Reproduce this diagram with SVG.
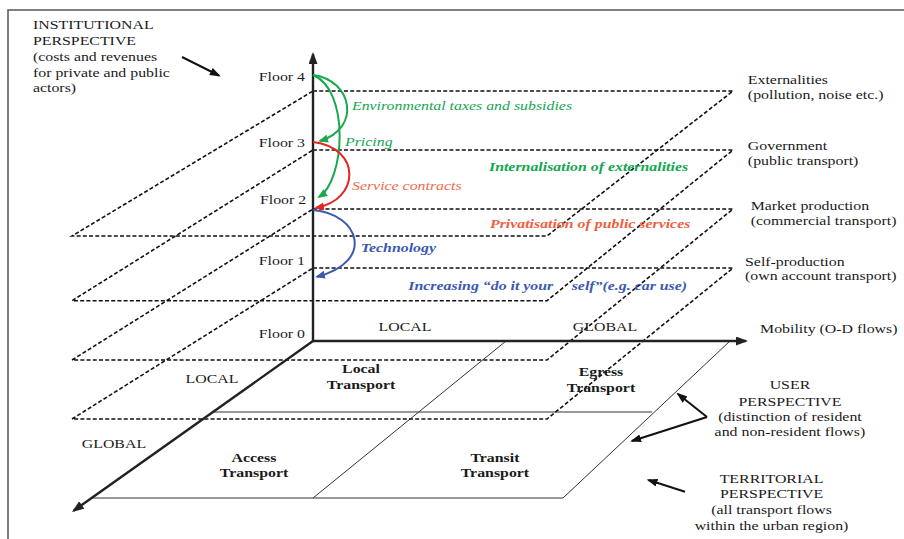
<svg xmlns="http://www.w3.org/2000/svg" width="904" height="539" viewBox="0 0 904 539">
<style>
.t{font-family:'Liberation Serif','Times New Roman','DejaVu Serif',serif;font-size:13px;fill:#1a1a1a}
.b{font-weight:bold}
.i{font-style:italic}
.mid{text-anchor:middle}
.end{text-anchor:end}
.dash{fill:none;stroke:#111;stroke-width:1.6;stroke-dasharray:4 2.2}
.axis{fill:none;stroke:#222;stroke-width:2.4}
.thin{fill:none;stroke:#333;stroke-width:1}
.g{fill:#12a650}.r{fill:#ef5f40}.bl{fill:#3b59b0}
.cg{fill:none;stroke:#18a84e;stroke-width:2}
.cr{fill:none;stroke:#e52521;stroke-width:2}
.cb{fill:none;stroke:#3b59b0;stroke-width:2}
.pa{fill:none;stroke:#111;stroke-width:2}
</style>
<defs>
<marker id="ax" markerUnits="userSpaceOnUse" markerWidth="12" markerHeight="10" refX="10" refY="4.5" orient="auto"><path d="M0,0 L12,4.5 L0,9 z" fill="#222"/></marker>
<marker id="ak" markerUnits="userSpaceOnUse" markerWidth="12" markerHeight="10" refX="9" refY="4" orient="auto"><path d="M0,0 L11,4 L0,8 z" fill="#111"/></marker>
<marker id="ag" markerUnits="userSpaceOnUse" markerWidth="11" markerHeight="9" refX="8" refY="4" orient="auto"><path d="M0,0 L10,4 L0,8 z" fill="#18a84e"/></marker>
<marker id="ar" markerUnits="userSpaceOnUse" markerWidth="11" markerHeight="9" refX="8" refY="4" orient="auto"><path d="M0,0 L10,4 L0,8 z" fill="#e52521"/></marker>
<marker id="ab" markerUnits="userSpaceOnUse" markerWidth="11" markerHeight="9" refX="8" refY="4" orient="auto"><path d="M0,0 L10,4 L0,8 z" fill="#3b59b0"/></marker>
</defs>
<rect width="904" height="539" fill="#fff"/>
<path id="frame" d="M8,539 V10 H904" fill="none" stroke="#555" stroke-width="1.5"/>

<g id="territorial-plane">
<polygon class="thin" points="313,341 730,341 563,498 92,498"/>
<line class="thin" x1="212" y1="412" x2="652" y2="412"/>
<line class="thin" x1="506" y1="341" x2="313" y2="498"/>
</g>

<g id="floor-4"><polygon class="dash" points="313,91 733,91 547,236 72,236"/></g>
<g id="floor-3"><polygon class="dash" points="313,150 733,150 547,300.7 72,300.7"/></g>
<g id="floor-2"><polygon class="dash" points="313,209 733,209 547,360 72,360"/></g>
<g id="floor-1"><polygon class="dash" points="313,268 733,268 547,419 72,419"/></g>

<g id="axes">
<path class="axis" d="M313,341 V54" marker-end="url(#ax)"/>
<path class="axis" d="M313,341 H746" marker-end="url(#ax)"/>
<path class="axis" d="M313,341 L73.6,510.8" marker-end="url(#ax)"/>
</g>

<g id="connectors">
<path class="cg" d="M313,75 C352,80 362,128 320,141" marker-end="url(#ag)"/>
<path class="cg" d="M313,75 C350,90 345,180 319,197" marker-end="url(#ag)"/>
<path class="cr" d="M313,142 C362,148 360,200 316,207.8" marker-end="url(#ar)"/>
<path class="cb" d="M313,210 C360,214 375,262 317,276.7" marker-end="url(#ab)"/>
<path class="pa" d="M182,57 L219,75.5" marker-end="url(#ak)"/>
<path class="pa" d="M707,417 L678,394" marker-end="url(#ak)"/>
<path class="pa" d="M707,417 L632,441" marker-end="url(#ak)"/>
<path class="pa" d="M685,491.7 L648.5,480" marker-end="url(#ak)"/>
</g>

<g id="labels" transform="scale(1.22,1)">
<g id="institutional">
<text class="t" x="27" y="29">INSTITUTIONAL</text>
<text class="t" x="27" y="45">PERSPECTIVE</text>
<text class="t" x="27" y="61">(costs and revenues</text>
<text class="t" x="27" y="77">for private and public</text>
<text class="t" x="27" y="92">actors)</text>
</g>
<g id="floor-labels">
<text class="t end" x="250" y="81">Floor 4</text>
<text class="t end" x="250" y="147">Floor 3</text>
<text class="t end" x="251" y="204">Floor 2</text>
<text class="t end" x="250" y="265">Floor 1</text>
<text class="t end" x="250" y="338">Floor 0</text>
</g>
<g id="right-labels">
<text class="t" x="613" y="84">Externalities</text>
<text class="t" x="613" y="99.5">(pollution, noise etc.)</text>
<text class="t" x="613" y="150">Government</text>
<text class="t" x="613" y="165">(public transport)</text>
<text class="t" x="615.3" y="210">Market production</text>
<text class="t" x="615.3" y="225">(commercial transport)</text>
<text class="t" x="610.7" y="266">Self-production</text>
<text class="t" x="610.7" y="280.5">(own account transport)</text>
<text class="t" x="623" y="333">Mobility (O-D flows)</text>
</g>
<g id="policy-labels">
<text class="t i g" x="288.5" y="110.5">Environmental taxes and subsidies</text>
<text class="t i g" x="282.8" y="146.5">Pricing</text>
<text class="t i b g" x="400.8" y="171.5">Internalisation of externalities</text>
<text class="t i r" x="288.5" y="190" style="fill:#f26a4b">Service contracts</text>
<text class="t i b r" x="401.6" y="228.5">Privatisation of public services</text>
<text class="t i b bl" x="295.7" y="252.5">Technology</text>
<text class="t i b bl" x="334.7" y="290">Increasing “do it your<tspan x="468.6">self”(e.g. car use)</tspan></text>
</g>
<g id="space-labels">
<text class="t mid" x="332" y="331">LOCAL</text>
<text class="t mid" x="495.9" y="331">GLOBAL</text>
<text class="t mid" x="173.8" y="383">LOCAL</text>
<text class="t mid" x="93.4" y="448">GLOBAL</text>
</g>
<g id="local-transport"><text class="t b mid" x="295.9" y="373">Local</text><text class="t b mid" x="295.9" y="389">Transport</text></g>
<g id="egress-transport"><text class="t b mid" x="492.6" y="376.5">Egress</text><text class="t b mid" x="492.6" y="392.5">Transport</text></g>
<g id="access-transport"><text class="t b mid" x="208.2" y="462">Access</text><text class="t b mid" x="208.2" y="477.5">Transport</text></g>
<g id="transit-transport"><text class="t b mid" x="405.7" y="462">Transit</text><text class="t b mid" x="405.7" y="477.5">Transport</text></g>
<g id="user-perspective">
<text class="t mid" x="647.5" y="389.5">USER</text>
<text class="t mid" x="647.5" y="406">PERSPECTIVE</text>
<text class="t mid" x="647.5" y="421">(distinction of resident</text>
<text class="t mid" x="647.5" y="436">and non-resident flows)</text>
</g>
<g id="territorial-perspective">
<text class="t mid" x="632.4" y="483">TERRITORIAL</text>
<text class="t mid" x="632.4" y="498.5">PERSPECTIVE</text>
<text class="t mid" x="632.4" y="514">(all transport flows</text>
<text class="t mid" x="632.4" y="530">within the urban region)</text>
</g>
</g>
</svg>
